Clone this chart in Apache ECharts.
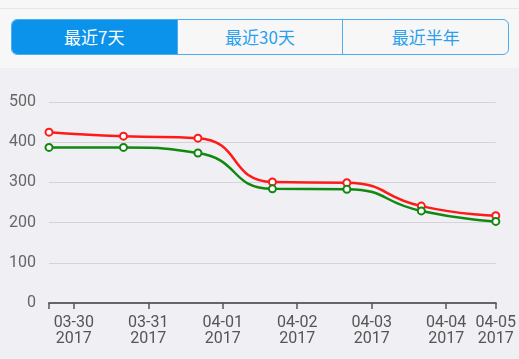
<!DOCTYPE html>
<html>
<head>
<meta charset="utf-8">
<script src="https://cdn.jsdelivr.net/npm/echarts@6/dist/echarts.min.js"></script>
<style>
html,body{margin:0;padding:0;width:519px;height:359px;overflow:hidden;background:#efeff4;font-family:"Noto Sans CJK SC",Roboto,sans-serif;}
#top{position:absolute;left:0;top:0;width:519px;height:68px;background:#f7f7f7;}
#topline{position:absolute;left:0;top:8px;width:519px;height:1px;background:#e6e6e6;}
#seg{position:absolute;left:11px;top:19px;width:496px;height:34px;border:1px solid #4aaef0;border-radius:6px;display:flex;overflow:hidden;background:#f7f7f7;}
#seg div{flex:1;text-align:center;line-height:34px;font-size:17px;color:#2a9ff0;}
#seg div+div{border-left:1.5px solid #4aaef0;}
#seg div.on{background:#0b93ec;color:#fff;}
#chart{position:absolute;left:0;top:68px;width:519px;height:291px;}
</style>
</head>
<body>
<div id="top"><div id="topline"></div>
<div id="seg"><div class="on">最近7天</div><div>最近30天</div><div>最近半年</div></div>
</div>
<div id="chart"></div>
<script>
// Dates (China time, UTC+8 midnight)
const dates = ['2017-03-30','2017-03-31','2017-04-01','2017-04-02','2017-04-03','2017-04-04','2017-04-05'];
const redValues = [425, 415, 410, 301, 299, 241, 217];
const greenValues = [387, 387, 373, 284, 283, 229, 203];
const yTicks = [0, 100, 200, 300, 400, 500];

const H = 3600e3;
const times = dates.map(d => Date.parse(d + 'T00:00:00+08:00'));
// axis day boundaries (UTC midnight)
const dayTicks = dates.slice(0, -1).map(d => Date.parse(d + 'T00:00:00Z'));
const tickValues = [times[0]].concat(dayTicks, [times[times.length - 1]]);
const labelValues = dayTicks.concat([times[times.length - 1]]);

function fmt(v) {
  const d = new Date(v + 8 * H);
  const mm = String(d.getUTCMonth() + 1).padStart(2, '0');
  const dd = String(d.getUTCDate()).padStart(2, '0');
  return mm + '-' + dd + '\n' + d.getUTCFullYear();
}

const chart = echarts.init(document.getElementById('chart'));
chart.setOption({
  animation: false,
  backgroundColor: '#efeff4',
  grid: {left: 49, right: 22, top: 34, bottom: 56, containLabel: false},
  xAxis: {
    type: 'value',
    min: times[0],
    max: times[times.length - 1],
    axisLine: {lineStyle: {color: '#666', width: 2}},
    axisTick: {customValues: tickValues, length: 6, lineStyle: {color: '#555', width: 1.5}},
    axisLabel: {customValues: labelValues, formatter: fmt, color: '#555', fontSize: 16, lineHeight: 16, margin: 12, fontFamily: 'Roboto', hideOverlap: false},
    splitLine: {show: false}
  },
  yAxis: {
    type: 'value',
    min: yTicks[0], max: yTicks[yTicks.length - 1], interval: 100,
    axisLine: {show: false}, axisTick: {show: false},
    axisLabel: {color: '#666', fontSize: 16, margin: 13, fontFamily: 'Roboto'},
    splitLine: {lineStyle: {color: '#d4d4d8', width: 1.2}}
  },
  series: [
    {type: 'line', smooth: 0.55, data: times.map((t, i) => [t, redValues[i]]),
     symbol: 'emptyCircle', symbolSize: 7, itemStyle: {color: '#ff1a1a', borderWidth: 1.5},
     lineStyle: {color: '#ff1a1a', width: 2.5}},
    {type: 'line', smooth: 0.55, data: times.map((t, i) => [t, greenValues[i]]),
     symbol: 'emptyCircle', symbolSize: 7, itemStyle: {color: '#118811', borderWidth: 1.5},
     lineStyle: {color: '#118811', width: 2.5}}
  ]
});
</script>
</body>
</html>
